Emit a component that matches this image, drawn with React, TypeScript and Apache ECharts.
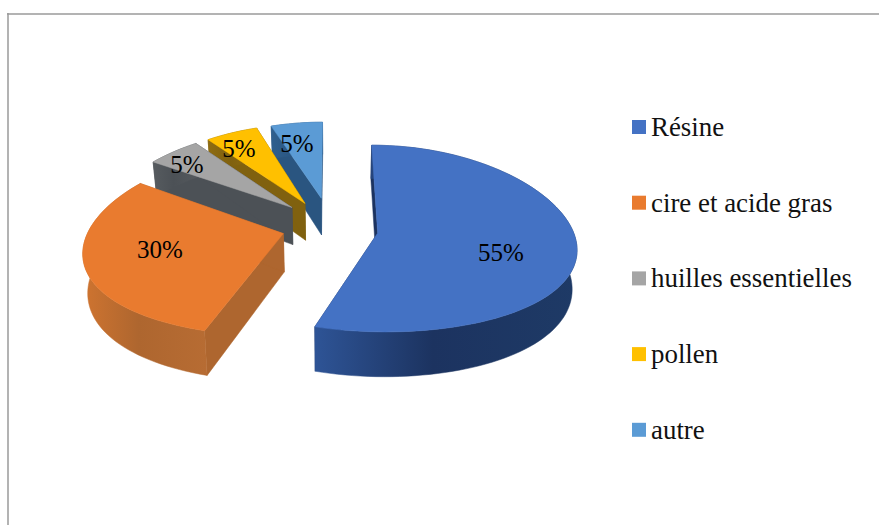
import React, { useEffect, useRef } from "react";
import * as echarts from "echarts";

const categories = ["Résine", "cire et acide gras", "huilles essentielles", "pollen", "autre"];
const values = [55, 30, 5, 5, 5];

const topColors = ["#4472C4", "#E97B2F", "#A5A5A5", "#FFC000", "#5B9BD5"];
const wallStops = [
  ["#2E5496", "#1C3360", "#1E3A66"],
  ["#CF7430", "#AE662F", "#B76C33"],
  ["#565B5F", "#4C5156", "#55595D"],
  ["#8E6C12", "#80610F", "#8E6C12"],
  ["#2F5F8E", "#2A5580", "#2F5F8E"],
];
const drawOrder = [5, 4, 3, 2, 1];
const apexLift = [0, 3, 6, 6, 9];
const sideShift = [-1, -1.5, -6, -5, -2.5];
const labelAnchors: [number, number][] = [
  [501, 252],
  [160, 249],
  [187, 164],
  [239, 148],
  [297, 143],
];

const CX = 331;
const CY = 229.5;
const RADIUS = 195;
const EXPLODE = 48;
const DEPTH = 38;
const PX = 0.00075;
const PY = 0.0003;
const TILT = 0.475;
const BOTTOM_SHRINK = 0.98;

const total = values.reduce((a, b) => a + b, 0);

function project(X: number, Z: number, bottom: boolean): number[] {
  const s = 1 / (1 + PX * Z);
  const sy = 1 / (1 + PY * Z);
  let x = CX + X * s;
  let y = CY - TILT * Z * sy;
  if (bottom) {
    x = CX + (x - CX) * BOTTOM_SHRINK;
    y += DEPTH * s;
  }
  return [x, y];
}

function sliceShapes(index: number) {
  const before = values.slice(0, index).reduce((a, b) => a + b, 0);
  const a0 = (before / total) * Math.PI * 2;
  const a1 = ((before + values[index]) / total) * Math.PI * 2;
  const mid = (a0 + a1) / 2;
  const ox = EXPLODE * Math.sin(mid) + sideShift[index];
  const oz = EXPLODE * Math.cos(mid);
  const rim = (bottom: boolean) => {
    const pts: number[][] = [];
    const n = Math.max(8, Math.ceil(((a1 - a0) / Math.PI) * 90));
    for (let i = 0; i <= n; i++) {
      const a = a0 + ((a1 - a0) * i) / n;
      pts.push(project(ox + RADIUS * Math.sin(a), oz + RADIUS * Math.cos(a), bottom));
    }
    return pts;
  };
  const lift = (p: number[]) => [p[0], p[1] - apexLift[index]];
  const apexTop = lift(project(ox, oz, false));
  const apexBottom = lift(project(ox, oz, true));
  const rimTop = rim(false);
  const rimBottom = rim(true);
  return {
    top: [apexTop, ...rimTop],
    outer: [...rimTop, ...rimBottom.slice().reverse()],
    startWall: [apexTop, rimTop[0], rimBottom[0], apexBottom],
    endWall: [apexTop, rimTop[rimTop.length - 1], rimBottom[rimBottom.length - 1], apexBottom],
  };
}

function xRange(points: number[][]) {
  const xs = points.map((p) => p[0]);
  return [Math.min(...xs), Math.max(...xs)];
}

function renderSlice(index: number) {
  return () => {
    const shape = sliceShapes(index);
    const [x0, x1] = xRange(shape.outer);
    const stops = wallStops[index];
    const wallFill = new echarts.graphic.LinearGradient(
      x0,
      0,
      x1,
      0,
      [
        { offset: 0, color: stops[0] },
        { offset: 0.45, color: stops[1] },
        { offset: 1, color: stops[2] },
      ],
      true
    );
    const poly = (points: number[][], fill: any) => ({
      type: "polygon",
      shape: { points },
      style: { fill, stroke: fill, lineWidth: 0.5 },
      silent: true,
    });
    return {
      type: "group",
      children: [
        poly(shape.startWall, stops[1]),
        poly(shape.endWall, stops[1]),
        poly(shape.outer, wallFill),
        poly(shape.top, topColors[index]),
        {
          type: "text",
          x: labelAnchors[index][0],
          y: labelAnchors[index][1],
          silent: true,
          style: {
            text: `${values[index]}%`,
            fill: "#000000",
            font: "25px 'Liberation Serif'",
            align: "center",
            verticalAlign: "middle",
          },
        },
      ],
    };
  };
}

export default function App() {
  const ref = useRef<HTMLDivElement>(null);
  useEffect(() => {
    if (!ref.current) return;
    const chart = echarts.init(ref.current, null, { renderer: "svg" });
    chart.setOption({
      animation: false,
      backgroundColor: "#ffffff",
      legend: {
        show: true,
        orient: "vertical",
        left: 627,
        top: 107,
        data: categories,
        icon: "rect",
        itemWidth: 14,
        itemHeight: 14,
        itemGap: 45.7,
        selectedMode: false,
        textStyle: {
          fontFamily: "'Liberation Serif'",
          fontSize: 26.9,
          lineHeight: 30,
          color: "#111111",
        },
      },
      graphic: [
        {
          type: "line",
          shape: { x1: 7, y1: 14, x2: 879, y2: 14 },
          style: { stroke: "#9A9A9A", lineWidth: 1.5 },
          silent: true,
        },
        {
          type: "line",
          shape: { x1: 8, y1: 13, x2: 8, y2: 525 },
          style: { stroke: "#9A9A9A", lineWidth: 1.5 },
          silent: true,
        },
      ],
      series: categories.map((name, i) => ({
        type: "custom",
        name,
        coordinateSystem: "none",
        z: drawOrder[i] + 2,
        itemStyle: { color: topColors[i] },
        data: [values[i]],
        renderItem: renderSlice(i),
      })),
    });
    return () => chart.dispose();
  }, []);
  return <div ref={ref} style={{ position: "absolute", left: 0, top: 0, width: 879, height: 525 }} />;
}
